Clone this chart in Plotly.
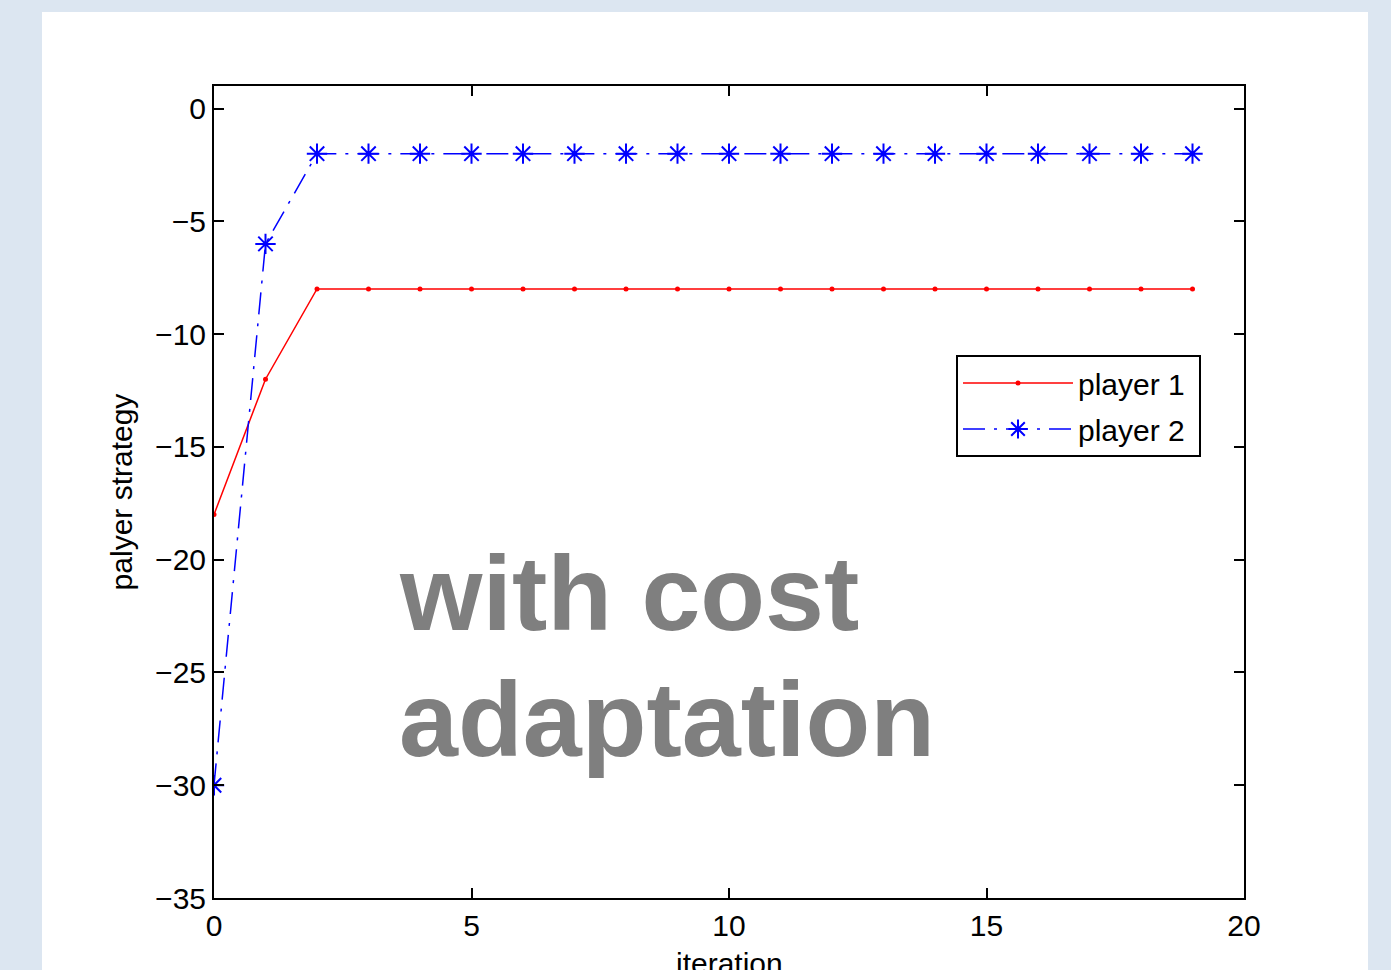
import plotly.graph_objects as go

iterations = list(range(20))
player1 = [-18, -12] + [-8] * 18
player2 = [-30, -6] + [-2] * 18
x_ticks = [0, 5, 10, 15, 20]
y_ticks = [0, -5, -10, -15, -20, -25, -30, -35]

FONT = "Liberation Sans, Arial, Helvetica, sans-serif"
PAD = "\u00a0"

fig = go.Figure()
fig.add_trace(go.Scatter(
    x=iterations, y=player1, name="player 1" + PAD, mode="lines+markers",
    line=dict(color="#ff0000", width=1.5),
    marker=dict(symbol="circle", size=5, color="#ff0000"),
    legendgroup="a",
))
fig.add_trace(go.Scatter(
    x=iterations, y=player2, name="player 2" + PAD, mode="lines+markers",
    line=dict(color="#0000ff", width=1.5, dash="22px,9px,3px,9px"),
    marker=dict(symbol="asterisk-open", size=17, color="#0000ff",
                line=dict(color="#0000ff", width=2)),
    legendgroup="b",
))

W, H = 1391, 970
L, R, T, B = 214, 1244, 86, 898

fig.update_layout(
    width=W, height=H,
    margin=dict(l=L, r=W - R, t=T, b=H - B, autoexpand=False),
    paper_bgcolor="#dce6f1",
    plot_bgcolor="white",
    font=dict(family=FONT, size=30, color="black"),
    showlegend=True,
    legend=dict(
        x=(956 - L) / (R - L), y=(B - 355) / (B - T),
        xanchor="left", yanchor="top",
        bgcolor="white", bordercolor="black", borderwidth=2,
        font=dict(size=30, family=FONT),
        traceorder="grouped", tracegroupgap=4,
        itemwidth=110,
    ),
    xaxis=dict(
        range=[0, 20], tickvals=x_ticks, ticks="inside", ticklen=10,
        tickwidth=1.5, tickcolor="black", showline=True, linecolor="black",
        linewidth=2, mirror="ticks", showgrid=False, zeroline=False,
        automargin=False,
    ),
    yaxis=dict(
        range=[-35, 1], tickvals=y_ticks,
        ticktext=[("\u2212" + str(-v)) if v < 0 else str(v) for v in y_ticks],
        ticks="inside", ticklen=10,
        tickwidth=1.5, tickcolor="black", showline=True, linecolor="black",
        linewidth=2, mirror="ticks", showgrid=False, zeroline=False,
        title=dict(text="palyer strategy", standoff=14, font=dict(size=30)),
        automargin=False,
    ),
    shapes=[dict(
        type="rect", xref="paper", yref="paper",
        x0=(42 - L) / (R - L), x1=(1368 - L) / (R - L),
        y0=(B - 975) / (B - T), y1=(B - 12) / (B - T),
        fillcolor="white", line=dict(width=0), layer="below",
    )],
    annotations=[
        dict(text="iteration", xref="paper", yref="paper",
             x=0.5, y=(B - 963) / (B - T),
             xanchor="center", yanchor="middle", showarrow=False,
             font=dict(size=30, color="black", family=FONT)),
        dict(text="<b>with cost</b>", xref="paper", yref="paper",
             x=(397 - L) / (R - L), y=(B - 593) / (B - T),
             xanchor="left", yanchor="middle", showarrow=False,
             font=dict(size=106, color="#7f7f7f", family=FONT)),
        dict(text="<b>adaptation</b>", xref="paper", yref="paper",
             x=(397 - L) / (R - L), y=(B - 719) / (B - T),
             xanchor="left", yanchor="middle", showarrow=False,
             font=dict(size=106, color="#7f7f7f", family=FONT)),
    ],
)

fig.write_html("out.html")
